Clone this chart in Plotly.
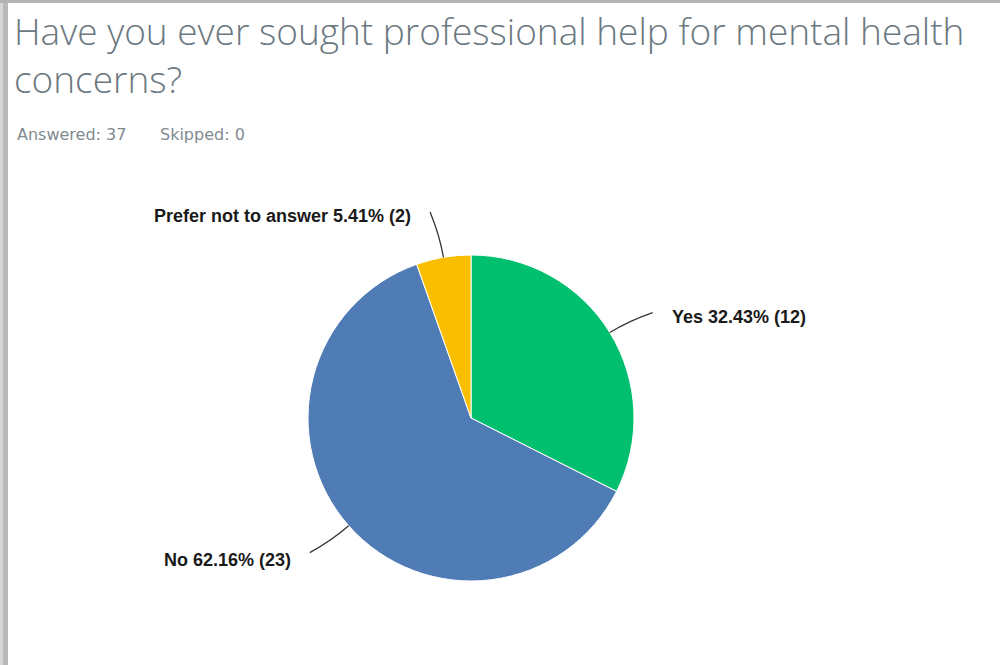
import math
import plotly.graph_objects as go

# Survey responses
labels = ["Yes", "No", "Prefer not to answer"]
counts = [12, 23, 2]
colors = ["#00BF6F", "#507CB6", "#F9BE00"]
title_lines = ["Have you ever sought professional help for mental health", "concerns?"]
answered = 37
skipped = 0

W, H = 1005, 665
CX, CY, R = 471, 418, 163  # pie centre and radius in pixels


def px(x):
    return x / W


def py(y):
    return 1 - y / H


total = sum(counts)
pcts = [c / total * 100 for c in counts]
label_text = [f"{l} {p:.2f}% ({c})" for l, p, c in zip(labels, pcts, counts)]

fig = go.Figure()
fig.add_trace(go.Pie(
    labels=labels,
    values=counts,
    sort=False,
    direction="clockwise",
    rotation=0,
    marker=dict(colors=colors, line=dict(color="white", width=1)),
    textinfo="none",
    hoverinfo="label+percent+value",
    showlegend=False,
    domain=dict(x=[px(CX - R), px(CX + R)], y=[py(CY + R), py(CY - R)]),
))

# leader lines and outside labels, placed from each slice's mid angle
shapes = []
annotations = []
cum = 0
for txt, c in zip(label_text, counts):
    mid = (cum + c / 2) / total * 360
    cum += c
    a = math.radians(mid)
    s, co = math.sin(a), math.cos(a)
    side = 1 if s >= 0 else -1
    # bend the end of the leader slightly toward horizontal
    horiz = 90 if side > 0 else 270
    tilt = 1.5 if horiz > mid else -1.5
    ae = math.radians(mid + tilt)
    x0, y0 = CX + R * s, CY - R * co
    xc, yc = CX + (R + 22) * s, CY - (R + 22) * co
    x1, y1 = CX + 210 * math.sin(ae), CY - 210 * math.cos(ae)
    shapes.append(dict(
        type="path", xref="paper", yref="paper",
        path=f"M {px(x0)},{py(y0)} Q {px(xc)},{py(yc)} {px(x1)},{py(y1)}",
        line=dict(color="#333333", width=1.3),
    ))
    drop = 4 if co > 0 else 7
    annotations.append(dict(
        text=f"<b>{txt}</b>", xref="paper", yref="paper",
        x=px(x1 + side * 17), y=py(y1 + drop),
        xanchor="left" if side > 0 else "right", yanchor="middle",
        showarrow=False, font=dict(family="Liberation Sans", size=18, color="#1a1a1a"),
    ))

# title and response summary
annotations.append(dict(
    text="<br>".join(title_lines), xref="paper", yref="paper", x=px(12), y=py(54),
    xanchor="left", yanchor="middle", align="left", showarrow=False,
    font=dict(family="Open Sans", size=37, color="#6B787F", weight=300),
))
for txt, x in [(f"Answered: {answered}", 15), (f"Skipped: {skipped}", 158)]:
    annotations.append(dict(
        text=txt, xref="paper", yref="paper", x=px(x), y=py(134),
        xanchor="left", yanchor="middle", showarrow=False,
        font=dict(family="DejaVu Sans", size=16, color="#7F8A90"),
    ))

# frame edges
shapes += [
    dict(type="rect", xref="paper", yref="paper", x0=0, x1=px(3), y0=0, y1=1,
         fillcolor="#d6d6d6", line=dict(width=0), layer="above"),
    dict(type="rect", xref="paper", yref="paper", x0=px(3), x1=px(8), y0=0, y1=1,
         fillcolor="#b8b8b8", line=dict(width=0), layer="above"),
    dict(type="rect", xref="paper", yref="paper", x0=0, x1=px(1000), y0=py(3), y1=1,
         fillcolor="#b4b4b4", line=dict(width=0), layer="above"),
]

fig.update_layout(
    width=W, height=H,
    margin=dict(l=0, r=0, t=0, b=0),
    paper_bgcolor="white", plot_bgcolor="white",
    shapes=shapes, annotations=annotations,
)

fig.write_html("out.html")
